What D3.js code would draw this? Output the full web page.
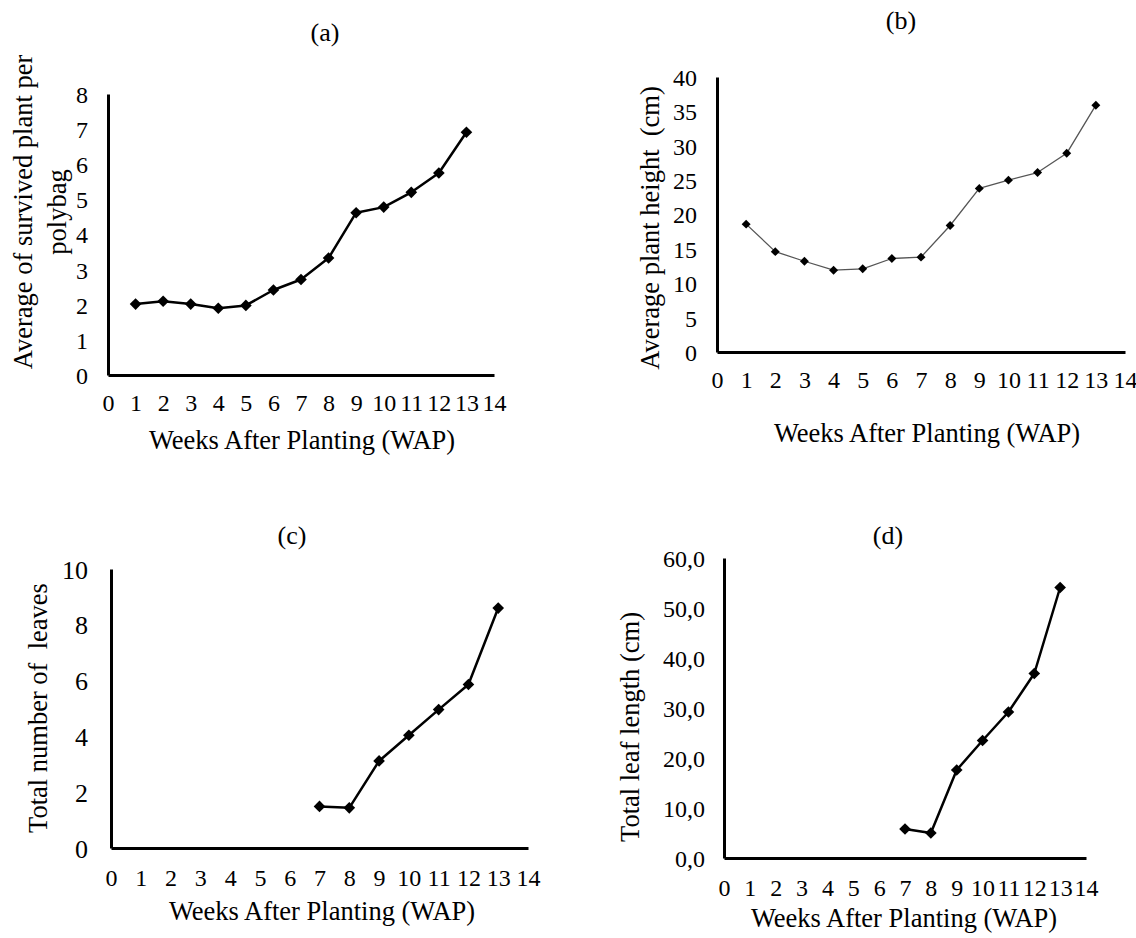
<!DOCTYPE html>
<html>
<head>
<meta charset="utf-8">
<script src="https://cdn.jsdelivr.net/npm/d3@7"></script>
<style>
  body { margin: 0; background: #fff; }
  text { font-family: "Liberation Serif", "Times New Roman", serif; fill: #000; }
</style>
</head>
<body>
<div id="chart"></div>
<script>
// Data
var weeks = [1, 2, 3, 4, 5, 6, 7, 8, 9, 10, 11, 12, 13];
var survivedPlants = [2.02, 2.10, 2.02, 1.90, 1.98, 2.42, 2.72, 3.33, 4.62, 4.78, 5.20, 5.75, 6.91];
var plantHeight = [18.6, 14.6, 13.2, 11.9, 12.1, 13.6, 13.8, 18.4, 23.8, 25.0, 26.1, 28.9, 35.9];

var leafWeeks = [7, 8, 9, 10, 11, 12, 13];
var leafCount = [1.49, 1.44, 3.12, 4.04, 4.96, 5.86, 8.60];
var leafLength = [5.8, 5.0, 17.6, 23.5, 29.2, 36.9, 54.1];

var weekTicks = [0, 1, 2, 3, 4, 5, 6, 7, 8, 9, 10, 11, 12, 13, 14];
var survivedTicks = [0, 1, 2, 3, 4, 5, 6, 7, 8];
var heightTicks = [0, 5, 10, 15, 20, 25, 30, 35, 40];
var leafCountTicks = [0, 2, 4, 6, 8, 10];
var leafLengthTicks = [0, 10, 20, 30, 40, 50, 60];

var svgWidth = 1136;
var svgHeight = 938;

var svg = d3.select("#chart")
  .append("svg")
  .attr("width", svgWidth)
  .attr("height", svgHeight);

var commaFormat = d => d.toFixed(1).replace(".", ",");

var panels = [
  {
    label: "(a)", labelPos: [325, 32],
    x: weeks, y: survivedPlants, yTicks: survivedTicks, yFormat: d3.format("d"),
    xRange: [108, 494], yRange: [375, 94],
    yTitle: ["Average of survived plant per", "polybag"], yTitlePos: [23, 212], yTitleGap: 34,
    xTitlePos: [302, 440], xTickOffset: 28, yTickOffset: 20, yTickSize: 24,
    lineWidth: 2.5, lineColor: "#000", markerSize: 68
  },
  {
    label: "(b)", labelPos: [901, 20],
    x: weeks, y: plantHeight, yTicks: heightTicks, yFormat: d3.format("d"),
    xRange: [717, 1125], yRange: [352, 77],
    yTitle: ["Average plant height\u00a0\u00a0(cm)"], yTitlePos: [650, 228], yTitleGap: 0,
    xTitlePos: [927, 433], xTickOffset: 28, yTickOffset: 20, yTickSize: 24,
    lineWidth: 1.3, lineColor: "#555", markerSize: 40
  },
  {
    label: "(c)", labelPos: [292, 535],
    x: leafWeeks, y: leafCount, yTicks: leafCountTicks, yFormat: d3.format("d"),
    xRange: [111, 528], yRange: [848, 569],
    yTitle: ["Total number of\u00a0\u00a0leaves"], yTitlePos: [38, 708], yTitleGap: 0,
    xTitlePos: [322, 911], xTickOffset: 30, yTickOffset: 23, yTickSize: 26,
    lineWidth: 2.5, lineColor: "#000", markerSize: 68
  },
  {
    label: "(d)", labelPos: [888, 535],
    x: leafWeeks, y: leafLength, yTicks: leafLengthTicks, yFormat: commaFormat,
    xRange: [724, 1086], yRange: [858, 558],
    yTitle: ["Total leaf length (cm)"], yTitlePos: [630, 727], yTitleGap: 0,
    xTitlePos: [904, 918], xTickOffset: 30, yTickOffset: 19, yTickSize: 24,
    lineWidth: 2.5, lineColor: "#000", markerSize: 68
  }
];

var diamond = d3.symbol().type(d3.symbolSquare);

function drawPanel(p) {
  var g = svg.append("g");

  var xScale = d3.scaleLinear()
    .domain([0, 14])
    .range(p.xRange);

  var yScale = d3.scaleLinear()
    .domain([p.yTicks[0], p.yTicks[p.yTicks.length - 1]])
    .range(p.yRange);

  // x axis
  var xAxis = g.append("g")
    .attr("transform", `translate(0, ${p.yRange[0]})`)
    .call(d3.axisBottom(xScale).tickValues(weekTicks).tickSize(0).tickSizeOuter(0));

  xAxis.selectAll("text")
    .attr("y", p.xTickOffset)
    .attr("dy", "0.35em")
    .attr("font-size", 24);

  // y axis
  var yAxis = g.append("g")
    .attr("transform", `translate(${p.xRange[0]}, 0)`)
    .call(d3.axisLeft(yScale).tickValues(p.yTicks).tickFormat(p.yFormat).tickSize(0).tickSizeOuter(0));

  yAxis.selectAll("text")
    .attr("x", -p.yTickOffset)
    .attr("dy", "0.35em")
    .attr("font-size", p.yTickSize);

  g.selectAll(".domain")
    .attr("stroke", "#000")
    .attr("stroke-width", 3);

  var points = p.x.map((w, i) => ({ week: w, value: p.y[i] }));

  var line = d3.line()
    .x(d => xScale(d.week))
    .y(d => yScale(d.value));

  g.append("path")
    .datum(points)
    .attr("d", line)
    .attr("fill", "none")
    .attr("stroke", p.lineColor)
    .attr("stroke-width", p.lineWidth)
    .attr("stroke-linejoin", "round");

  g.append("g")
    .selectAll("path")
    .data(points)
    .enter()
    .append("path")
    .attr("d", diamond.size(p.markerSize))
    .attr("transform", d => `translate(${xScale(d.week)}, ${yScale(d.value)}) rotate(45)`)
    .attr("fill", "#000");

  // panel label
  g.append("text")
    .attr("x", p.labelPos[0])
    .attr("y", p.labelPos[1])
    .attr("text-anchor", "middle")
    .attr("dy", "0.35em")
    .attr("font-size", 26)
    .text(p.label);

  // x axis title
  g.append("text")
    .attr("x", p.xTitlePos[0])
    .attr("y", p.xTitlePos[1])
    .attr("text-anchor", "middle")
    .attr("dy", "0.35em")
    .attr("font-size", 26.5)
    .text("Weeks After Planting (WAP)");

  // y axis title (one or two lines)
  p.yTitle.forEach(function(t, i) {
    g.append("text")
      .attr("transform", `translate(${p.yTitlePos[0] + i * p.yTitleGap}, ${p.yTitlePos[1]}) rotate(-90)`)
      .attr("text-anchor", "middle")
      .attr("dy", "0.35em")
      .attr("font-size", 26.5)
      .text(t);
  });
}

panels.forEach(drawPanel);
</script>
</body>
</html>
